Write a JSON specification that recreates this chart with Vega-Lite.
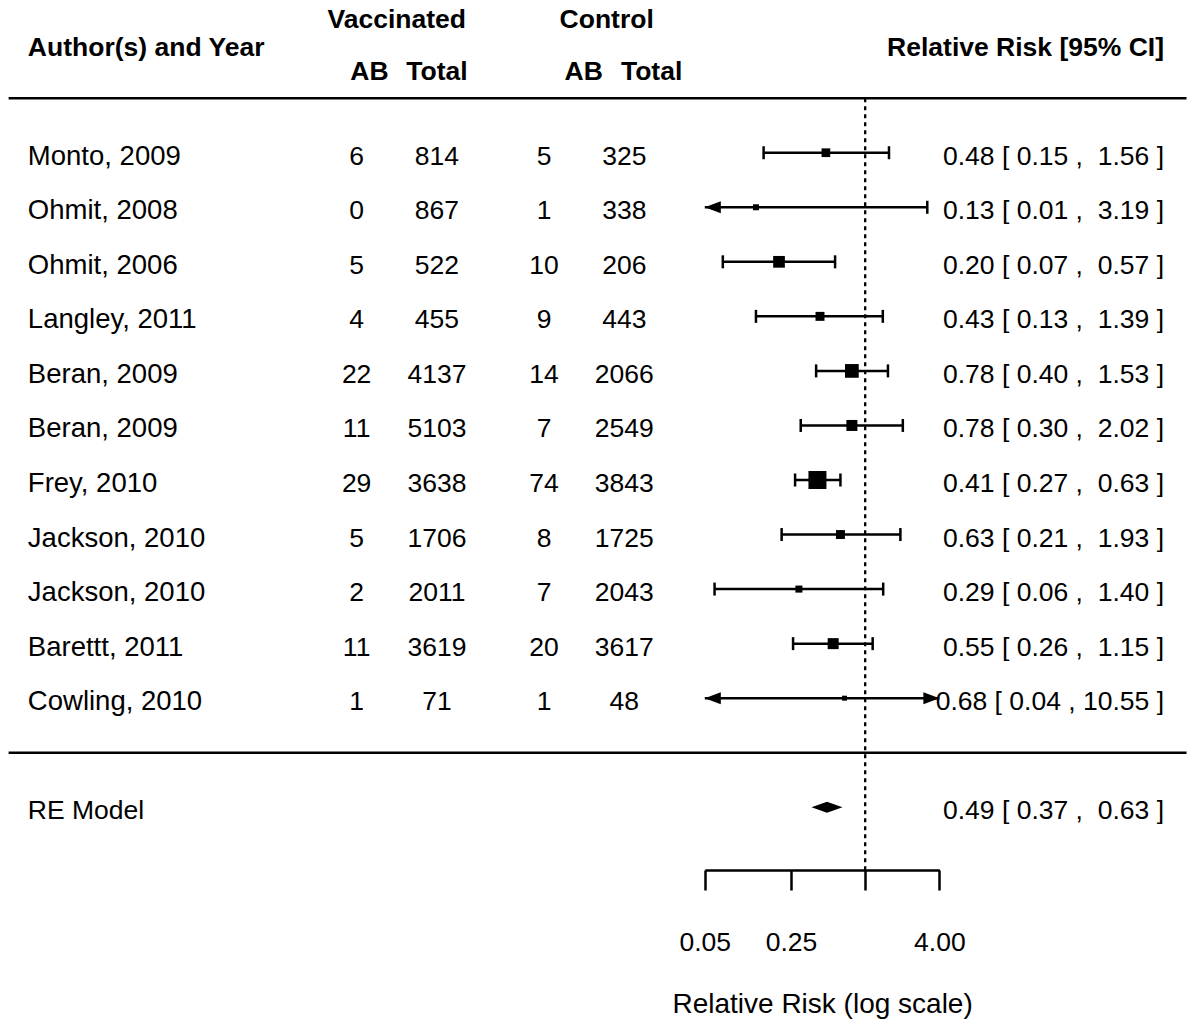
{
  "$schema": "https://vega.github.io/schema/vega-lite/v6.json",
  "width": 1200,
  "height": 870,
  "autosize": {"type": "none"},
  "padding": {"left": 0, "top": 0, "right": 0, "bottom": 160},
  "background": "white",
  "config": {
    "view": {"stroke": null},
    "font": "Liberation Sans",
    "text": {"fontSize": 26.5, "color": "black", "baseline": "middle", "dy": 4}
  },
  "datasets": {
    "studies": [
      {"order": 1, "study": "Monto, 2009", "vAB": 6, "vTotal": 814, "cAB": 5, "cTotal": 325, "rr": 0.48, "lo": 0.15, "hi": 1.56, "weight": 6.1, "ci": "0.48 [ 0.15 , \u00a01.56 ]"},
      {"order": 2, "study": "Ohmit, 2008", "vAB": 0, "vTotal": 867, "cAB": 1, "cTotal": 338, "rr": 0.13, "lo": 0.01, "hi": 3.19, "weight": 2.9, "ci": "0.13 [ 0.01 , \u00a03.19 ]"},
      {"order": 3, "study": "Ohmit, 2006", "vAB": 5, "vTotal": 522, "cAB": 10, "cTotal": 206, "rr": 0.20, "lo": 0.07, "hi": 0.57, "weight": 11.1, "ci": "0.20 [ 0.07 , \u00a00.57 ]"},
      {"order": 4, "study": "Langley, 2011", "vAB": 4, "vTotal": 455, "cAB": 9, "cTotal": 443, "rr": 0.43, "lo": 0.13, "hi": 1.39, "weight": 6.5, "ci": "0.43 [ 0.13 , \u00a01.39 ]"},
      {"order": 5, "study": "Beran, 2009", "vAB": 22, "vTotal": 4137, "cAB": 14, "cTotal": 2066, "rr": 0.78, "lo": 0.40, "hi": 1.53, "weight": 15.2, "ci": "0.78 [ 0.40 , \u00a01.53 ]"},
      {"order": 6, "study": "Beran, 2009", "vAB": 11, "vTotal": 5103, "cAB": 7, "cTotal": 2549, "rr": 0.78, "lo": 0.30, "hi": 2.02, "weight": 9.8, "ci": "0.78 [ 0.30 , \u00a02.02 ]"},
      {"order": 7, "study": "Frey, 2010", "vAB": 29, "vTotal": 3638, "cAB": 74, "cTotal": 3843, "rr": 0.41, "lo": 0.27, "hi": 0.63, "weight": 26.2, "ci": "0.41 [ 0.27 , \u00a00.63 ]"},
      {"order": 8, "study": "Jackson, 2010", "vAB": 5, "vTotal": 1706, "cAB": 8, "cTotal": 1725, "rr": 0.63, "lo": 0.21, "hi": 1.93, "weight": 6.5, "ci": "0.63 [ 0.21 , \u00a01.93 ]"},
      {"order": 9, "study": "Jackson, 2010", "vAB": 2, "vTotal": 2011, "cAB": 7, "cTotal": 2043, "rr": 0.29, "lo": 0.06, "hi": 1.40, "weight": 4.0, "ci": "0.29 [ 0.06 , \u00a01.40 ]"},
      {"order": 10, "study": "Barettt, 2011", "vAB": 11, "vTotal": 3619, "cAB": 20, "cTotal": 3617, "rr": 0.55, "lo": 0.26, "hi": 1.15, "weight": 9.8, "ci": "0.55 [ 0.26 , \u00a01.15 ]"},
      {"order": 11, "study": "Cowling, 2010", "vAB": 1, "vTotal": 71, "cAB": 1, "cTotal": 48, "rr": 0.68, "lo": 0.04, "hi": 10.55, "weight": 2.0, "ci": "0.68 [ 0.04 , 10.55 ]"}
    ],
    "summary": [
      {"label": "RE Model", "rr": 0.49, "lo": 0.37, "hi": 0.63, "ci": "0.49 [ 0.37 , \u00a00.63 ]"}
    ]
  },
  "layer": [
    {
      "layer": [
        {
          "data": {"values": [{}]},
          "mark": {"type": "rule", "strokeWidth": 2.5, "color": "black"},
          "encoding": {
            "x": {"datum": -16, "type": "quantitative", "scale": {"type": "linear", "domain": [-16, 6], "range": [8.6, 1186.5], "nice": false, "zero": false}, "axis": null},
            "x2": {"datum": 6},
            "y": {"datum": 0, "type": "quantitative", "scale": {"domain": [-1.8, 14.15], "reverse": true, "nice": false, "zero": false}, "axis": null}
          }
        },
        {
          "data": {"values": [{}]},
          "mark": {"type": "rule", "strokeWidth": 2.5, "color": "black"},
          "encoding": {
            "x": {"datum": -16, "type": "quantitative", "axis": null},
            "x2": {"datum": 6},
            "y": {"datum": 12, "type": "quantitative", "axis": null}
          }
        },
        {
          "data": {"values": [{}]},
          "mark": {"type": "text", "text": "Author(s) and Year", "fontWeight": "bold", "align": "left"},
          "encoding": {
            "x": {"datum": -15.64, "type": "quantitative", "axis": null},
            "y": {"datum": -1, "type": "quantitative", "axis": null}
          }
        },
        {
          "data": {"values": [{}]},
          "mark": {"type": "text", "text": "Vaccinated", "fontWeight": "bold", "align": "center"},
          "encoding": {
            "x": {"datum": -8.75, "type": "quantitative", "axis": null},
            "y": {"datum": -1.5, "type": "quantitative", "axis": null}
          }
        },
        {
          "data": {"values": [{}]},
          "mark": {"type": "text", "text": "Control", "fontWeight": "bold", "align": "center"},
          "encoding": {
            "x": {"datum": -4.83, "type": "quantitative", "axis": null},
            "y": {"datum": -1.5, "type": "quantitative", "axis": null}
          }
        },
        {
          "data": {"values": [{}]},
          "mark": {"type": "text", "text": "AB", "fontWeight": "bold", "align": "center"},
          "encoding": {
            "x": {"datum": -9.26, "type": "quantitative", "axis": null},
            "y": {"datum": -0.55, "type": "quantitative", "axis": null}
          }
        },
        {
          "data": {"values": [{}]},
          "mark": {"type": "text", "text": "Total", "fontWeight": "bold", "align": "center"},
          "encoding": {
            "x": {"datum": -8.0, "type": "quantitative", "axis": null},
            "y": {"datum": -0.55, "type": "quantitative", "axis": null}
          }
        },
        {
          "data": {"values": [{}]},
          "mark": {"type": "text", "text": "AB", "fontWeight": "bold", "align": "center"},
          "encoding": {
            "x": {"datum": -5.26, "type": "quantitative", "axis": null},
            "y": {"datum": -0.55, "type": "quantitative", "axis": null}
          }
        },
        {
          "data": {"values": [{}]},
          "mark": {"type": "text", "text": "Total", "fontWeight": "bold", "align": "center"},
          "encoding": {
            "x": {"datum": -3.99, "type": "quantitative", "axis": null},
            "y": {"datum": -0.55, "type": "quantitative", "axis": null}
          }
        },
        {
          "data": {"values": [{}]},
          "mark": {"type": "text", "text": "Relative Risk [95% CI]", "fontWeight": "bold", "align": "right"},
          "encoding": {
            "x": {"datum": 5.58, "type": "quantitative", "axis": null},
            "y": {"datum": -1, "type": "quantitative", "axis": null}
          }
        },
        {
          "data": {"name": "studies"},
          "mark": {"type": "text", "align": "left", "fontSize": 27.5},
          "encoding": {
            "x": {"datum": -15.64, "type": "quantitative", "axis": null},
            "y": {"field": "order", "type": "quantitative", "axis": null},
            "text": {"field": "study"}
          }
        },
        {
          "data": {"name": "studies"},
          "mark": {"type": "text", "align": "center"},
          "encoding": {
            "x": {"datum": -9.5, "type": "quantitative", "axis": null},
            "y": {"field": "order", "type": "quantitative", "axis": null},
            "text": {"field": "vAB"}
          }
        },
        {
          "data": {"name": "studies"},
          "mark": {"type": "text", "align": "center"},
          "encoding": {
            "x": {"datum": -8, "type": "quantitative", "axis": null},
            "y": {"field": "order", "type": "quantitative", "axis": null},
            "text": {"field": "vTotal"}
          }
        },
        {
          "data": {"name": "studies"},
          "mark": {"type": "text", "align": "center"},
          "encoding": {
            "x": {"datum": -6, "type": "quantitative", "axis": null},
            "y": {"field": "order", "type": "quantitative", "axis": null},
            "text": {"field": "cAB"}
          }
        },
        {
          "data": {"name": "studies"},
          "mark": {"type": "text", "align": "center"},
          "encoding": {
            "x": {"datum": -4.5, "type": "quantitative", "axis": null},
            "y": {"field": "order", "type": "quantitative", "axis": null},
            "text": {"field": "cTotal"}
          }
        },
        {
          "data": {"name": "studies"},
          "mark": {"type": "text", "align": "right"},
          "encoding": {
            "x": {"datum": 5.58, "type": "quantitative", "axis": null},
            "y": {"field": "order", "type": "quantitative", "axis": null},
            "text": {"field": "ci"}
          }
        },
        {
          "data": {"name": "summary"},
          "mark": {"type": "text", "align": "left"},
          "encoding": {
            "x": {"datum": -15.64, "type": "quantitative", "axis": null},
            "y": {"datum": 13, "type": "quantitative", "axis": null},
            "text": {"field": "label"}
          }
        },
        {
          "data": {"name": "summary"},
          "mark": {"type": "text", "align": "right"},
          "encoding": {
            "x": {"datum": 5.58, "type": "quantitative", "axis": null},
            "y": {"datum": 13, "type": "quantitative", "axis": null},
            "text": {"field": "ci"}
          }
        }
      ]
    },
    {
      "layer": [
        {
          "data": {"values": [{}]},
          "mark": {"type": "rule", "strokeWidth": 2.3, "strokeDash": [4, 4], "color": "black"},
          "encoding": {
            "x": {
              "datum": 1,
              "type": "quantitative",
              "scale": {"type": "log", "domain": [0.05, 4], "range": [704.8, 939.4], "clamp": true, "nice": false},
              "axis": {
                "orient": "bottom",
                "values": [0.05, 0.25, 1, 4],
                "labelExpr": "datum.value == 1 ? '' : format(datum.value, '.2f')",
                "title": "Relative Risk (log scale)",
                "titleFontSize": 28,
                "titleFontWeight": "normal",
                "titleColor": "black",
                "titlePadding": 35,
                "labelFontSize": 26.5,
                "labelColor": "black",
                "labelPadding": 39,
                "labelFlush": false,
                "labelOverlap": false,
                "tickSize": 20,
                "tickWidth": 2.5,
                "tickColor": "black",
                "domainColor": "black",
                "domainWidth": 2.5,
                "grid": false
              }
            },
            "y": {"datum": 0, "type": "quantitative", "axis": null},
            "y2": {"datum": 14.15}
          }
        },
        {
          "data": {"name": "studies"},
          "mark": {"type": "rule", "strokeWidth": 2.5, "color": "black"},
          "encoding": {
            "x": {"field": "lo", "type": "quantitative"},
            "x2": {"field": "hi"},
            "y": {"field": "order", "type": "quantitative", "axis": null}
          }
        },
        {
          "data": {"name": "studies"},
          "transform": [{"filter": "datum.lo >= 0.05"}],
          "mark": {"type": "point", "shape": "M0,-1L0,1", "filled": false, "color": "black", "strokeWidth": 2.5, "size": 169, "opacity": 1},
          "encoding": {
            "x": {"field": "lo", "type": "quantitative"},
            "y": {"field": "order", "type": "quantitative", "axis": null}
          }
        },
        {
          "data": {"name": "studies"},
          "transform": [{"filter": "datum.hi <= 4"}],
          "mark": {"type": "point", "shape": "M0,-1L0,1", "filled": false, "color": "black", "strokeWidth": 2.5, "size": 169, "opacity": 1},
          "encoding": {
            "x": {"field": "hi", "type": "quantitative"},
            "y": {"field": "order", "type": "quantitative", "axis": null}
          }
        },
        {
          "data": {"name": "studies"},
          "transform": [{"filter": "datum.lo < 0.05"}],
          "mark": {"type": "point", "shape": "M0,0L2,-0.75L2,0.75Z", "filled": true, "color": "black", "size": 256, "opacity": 1},
          "encoding": {
            "x": {"field": "lo", "type": "quantitative"},
            "y": {"field": "order", "type": "quantitative", "axis": null}
          }
        },
        {
          "data": {"name": "studies"},
          "transform": [{"filter": "datum.hi > 4"}],
          "mark": {"type": "point", "shape": "M0,0L-2,-0.75L-2,0.75Z", "filled": true, "color": "black", "size": 256, "opacity": 1},
          "encoding": {
            "x": {"field": "hi", "type": "quantitative"},
            "y": {"field": "order", "type": "quantitative", "axis": null}
          }
        },
        {
          "data": {"name": "studies"},
          "mark": {"type": "point", "shape": "square", "filled": true, "color": "black", "opacity": 1},
          "encoding": {
            "x": {"field": "rr", "type": "quantitative"},
            "y": {"field": "order", "type": "quantitative", "axis": null},
            "size": {"field": "weight", "type": "quantitative", "scale": {"type": "linear", "domain": [0, 26.2], "range": [0, 324]}, "legend": null}
          }
        },
        {
          "data": {"name": "summary"},
          "mark": {"type": "point", "shape": "M-1,0L0,-0.35L1,0L0,0.35Z", "filled": true, "color": "black", "size": 961, "opacity": 1},
          "encoding": {
            "x": {"field": "rr", "type": "quantitative"},
            "y": {"datum": 13, "type": "quantitative", "axis": null}
          }
        }
      ]
    }
  ],
  "resolve": {"scale": {"x": "independent"}}
}
